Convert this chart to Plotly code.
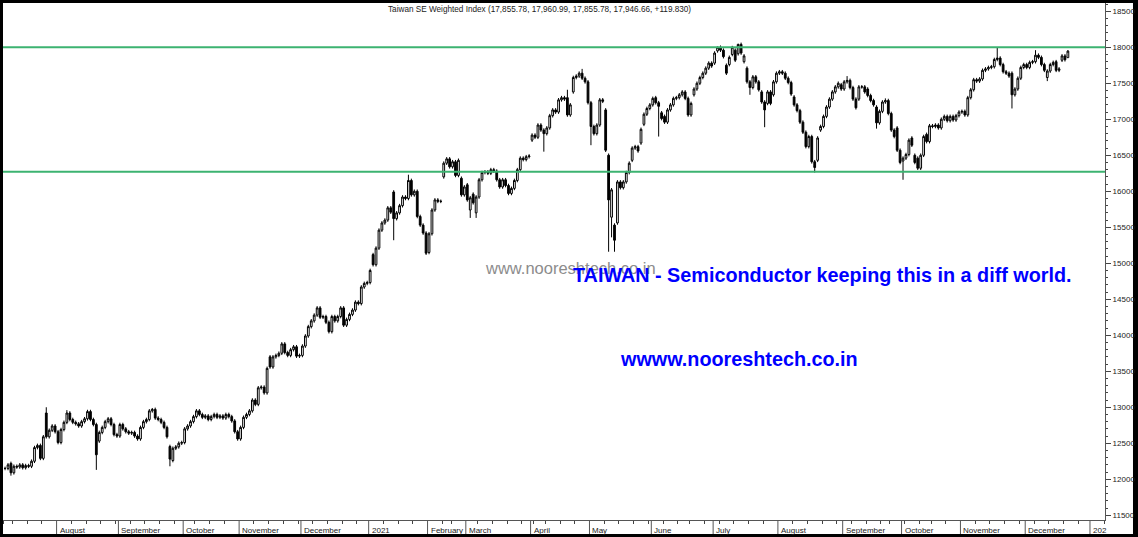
import pandas as pd
import plotly.graph_objects as go

# ---------------- data (daily closes) ----------------
close_jul20 = [12150, 12200, 12090, 12180, 12170, 12200, 12160, 12190, 12180, 12250,
               12440, 12470, 12290, 12590, 12590, 12680, 12740, 12660]
close_aug20 = [12510, 12690, 12790, 12920, 12830, 12790, 12770, 12740, 12800, 12840,
               12940, 12830, 12760, 12340, 12650, 12720, 12800, 12840, 12760, 12620, 12600]
close_sep20 = [12760, 12700, 12660, 12640, 12650, 12600, 12560, 12720, 12800, 12830,
               12950, 12970, 12850, 12830, 12790, 12720, 12590, 12280, 12430, 12450, 12500, 12510]
close_oct20 = [12700, 12740, 12800, 12870, 12950, 12900, 12860, 12880, 12830, 12870,
               12900, 12860, 12880, 12850, 12900, 12870, 12810, 12660, 12560]
close_nov20 = [12720, 12860, 12900, 12950, 13100, 13040, 13270, 13280, 13200, 13540,
               13560, 13700, 13720, 13750, 13880, 13760, 13720, 13800, 13840, 13710, 13720]
close_dec20 = [13850, 13990, 14120, 14200, 14280, 14380, 14250, 14260, 14180, 14050,
               14260, 14200, 14260, 14380, 14140, 14220, 14290, 14350, 14460, 14440,
               14670, 14720, 14732]
close_jan21 = [14900, 14980, 15210, 15460, 15560, 15600, 15770, 15710, 15620, 15700,
               15800, 15920, 15900, 16150, 15950, 16000, 15650, 15530, 15420, 15140]
close_feb21 = [15410, 15740, 15880, 15860, 15860, 16390, 16450, 16340, 16410, 16220,
               16430, 15950, 16060]
close_mar21 = [15880, 15910, 15840, 15920, 16160, 16260, 16270, 16250, 16300, 16280,
               16160, 16060, 16160, 16080, 15970, 16040, 16150, 16300, 16460, 16440,
               16480, 16490]
close_apr21 = [16780, 16750, 16920, 16850, 16800, 16880, 17050, 17130, 17100, 17270,
               17300, 17280, 17060, 17200, 17580, 17600, 17640, 17570, 17520, 17230]
close_may21 = [16900, 16800, 16920, 17270, 17250, 16570, 15880, 16020, 15320, 16130,
               16050, 16130, 16260, 16390, 16600, 16620, 16560, 16860, 17070, 17150, 17200]
close_jun21 = [17290, 17230, 17180, 17010, 16960, 17130, 17200, 17290, 17300, 17340,
               17380, 17290, 17060, 17220, 17420, 17500, 17580, 17640, 17710, 17780, 17740]
close_jul21 = [17920, 18000, 17960, 17870, 17640, 17860, 18000, 17820, 18040, 17920,
               17880, 17520, 17440, 17590, 17520, 17410, 17240, 17130, 17380, 17220,
               17520, 17640]
close_aug21 = [17660, 17640, 17570, 17510, 17350, 17200, 17120, 16960, 16820, 16620,
               16760, 16410, 16330, 16740, 16900, 17040, 17170, 17280, 17380, 17450,
               17500, 17420]
close_sep21 = [17520, 17540, 17440, 17280, 17160, 17450, 17450, 17380, 17330, 17260,
               17200, 16950, 17110, 17240, 17260, 17080, 16850, 16760, 16570, 16400]
close_oct21 = [16460, 16510, 16710, 16640, 16400, 16320, 16500, 16760, 16690, 16910,
               16900, 16920, 16880, 17000, 17040, 16980, 17040, 16990, 17050, 17100]
close_nov21 = [17110, 17060, 17300, 17410, 17550, 17530, 17560, 17680, 17700, 17720,
               17730, 17830, 17850, 17760, 17660, 17640, 17600, 17340, 17420, 17570,
               17720, 17760]
close_dec21 = [17720, 17790, 17800, 17890, 17860, 17760, 17680, 17670, 17760, 17790,
               17680, 17700, 17880, 17826.83, 17946.66]

# opens that differ from the previous close (bar number -> open)
open_gaps = {2: 12220, 14: 12920, 32: 12530, 56: 12455, 57: 12260, 90: 13700, 125: 15120,
             132: 15990, 144: 15150, 149: 16200, 155: 16180, 157: 16090, 158: 15740,
             159: 15960, 160: 15700, 179: 16710, 191: 17300, 193: 17380, 204: 17130,
             205: 16500, 206: 15640, 207: 15530, 208: 15560, 213: 16430, 216: 16670,
             217: 16930, 221: 17300, 223: 17090, 224: 17040, 234: 17340, 241: 17780,
             242: 17950, 245: 17750, 246: 17760, 247: 17900, 248: 17960, 249: 17910,
             251: 17800, 252: 17710, 257: 17380, 259: 17220, 261: 17340, 268: 17310,
             276: 16430, 277: 16850, 284: 17480, 290: 17280, 293: 17420, 296: 17170,
             303: 16880, 305: 16420, 308: 16740, 309: 16500, 310: 16460, 313: 16790,
             342: 17640, 354: 17580, 357: 17800, 359: 17820, 361: 17855.78}
# visible long shadows (bar number -> extreme)
high_wicks = {14: 13000, 21: 12960, 50: 12990, 137: 16230, 191: 17410, 196: 17700,
              242: 18010, 247: 18020, 249: 18050, 286: 17600, 299: 17290, 337: 18000,
              350: 17960, 361: 17960.99}
low_wicks = {2: 12050, 31: 12130, 56: 12180, 132: 15320, 158: 15630, 160: 15630,
             183: 16550, 199: 16640, 205: 15160, 206: 15360, 207: 15160, 222: 16760,
             253: 17340, 258: 16890, 275: 16260, 296: 16870, 305: 16160, 342: 17150,
             354: 17530, 361: 17855.78}
wick_pad = 25

support_resistance = [18000, 16270]

month_labels = ["August", "September", "October", "November", "December", "2021",
                "February", "March", "April", "May", "June", "July", "August",
                "September", "October", "November", "December", "202"]

holidays = ["2020-10-01", "2020-10-02", "2020-10-09", "2021-01-01",
            "2021-02-08", "2021-02-09", "2021-02-10", "2021-02-11", "2021-02-12",
            "2021-02-15", "2021-02-16", "2021-03-01", "2021-04-02", "2021-04-05",
            "2021-06-14", "2021-09-20", "2021-09-21", "2021-10-11", "2021-12-31"]

# ---------------- build OHLC ----------------
closes = (close_jul20 + close_aug20 + close_sep20 + close_oct20 + close_nov20 + close_dec20 +
          close_jan21 + close_feb21 + close_mar21 + close_apr21 + close_may21 + close_jun21 +
          close_jul21 + close_aug21 + close_sep21 + close_oct21 + close_nov21 + close_dec21)
n = len(closes)
opens, highs, lows = [], [], []
for i, c in enumerate(closes):
    o = open_gaps.get(i, closes[i - 1] if i > 0 else c)
    opens.append(o)
    highs.append(high_wicks.get(i, max(o, c) + wick_pad))
    lows.append(low_wicks.get(i, min(o, c) - wick_pad))

cal = pd.bdate_range("2020-07-08", "2022-01-21", freq="C", holidays=holidays)
dates = cal[:n]
assert str(dates[-1].date()) == "2021-12-21", (n, dates[-1])
xs = list(range(n))

# month starts (from August 2020) and weekly ticks
month_start = []
week_start = []
prev_m, prev_w = None, None
for i, d in enumerate(cal):
    m = (d.year, d.month)
    w = d.isocalendar()[:2]
    if m != prev_m and i > 0:
        month_start.append(i)
    if w != prev_w:
        week_start.append(i)
    prev_m, prev_w = m, w
month_start = month_start[:len(month_labels)]

fig = go.Figure()
fig.add_trace(go.Candlestick(
    x=xs, open=opens, high=highs, low=lows, close=closes,
    increasing=dict(line=dict(color="black", width=1), fillcolor="white"),
    decreasing=dict(line=dict(color="black", width=1), fillcolor="black"),
    whiskerwidth=0, showlegend=False, hoverinfo="skip"))

shapes = []
# white canvas inside the black frame
shapes.append(dict(type="rect", xref="paper", yref="paper", x0=0, x1=1.0254,
                   y0=-0.0271, y1=1, fillcolor="white", line=dict(width=0), layer="below"))
for lvl in support_resistance:
    shapes.append(dict(type="line", xref="paper", yref="y", x0=0, x1=1, y0=lvl, y1=lvl,
                       line=dict(color="#3cb371", width=2)))
for ms in month_start:
    shapes.append(dict(type="line", xref="x", yref="paper", x0=ms - 0.5, x1=ms - 0.5,
                       y0=0, y1=-0.0271, line=dict(color="#555555", width=1)))

annotations = []
for ms, lab in zip(month_start, month_labels):
    annotations.append(dict(x=ms - 0.5, y=-0.0195, xref="x", yref="paper", text=lab,
                            showarrow=False, xanchor="left", yanchor="middle", xshift=1,
                            font=dict(family="Liberation Sans", size=8, color="#222222")))

o, h, l, c = opens[-1], highs[-1], lows[-1], closes[-1]
chg = c - closes[-2]
title = f"Taiwan SE Weighted Index ({o:,.2f}, {h:,.2f}, {l:,.2f}, {c:,.2f}, +{chg:.3f})"
annotations.append(dict(x=0.4864, y=0.9865, xref="paper", yref="paper", text=title,
                        showarrow=False, xanchor="center", yanchor="middle",
                        font=dict(family="Liberation Sans", size=8.2, color="#222222")))
annotations.append(dict(x=0.4357, y=0.4874, xref="paper", yref="paper",
                        text="www.nooreshtech.co.in", showarrow=False,
                        xanchor="left", yanchor="middle",
                        font=dict(family="Liberation Sans", size=16.5, color="#8c8c8c")))
annotations.append(dict(x=0.5154, y=0.474, xref="paper", yref="paper",
                        text="<b>TAIWAN - Semiconductor keeping this in a diff world.</b>",
                        showarrow=False, xanchor="left", yanchor="middle",
                        font=dict(family="Liberation Sans", size=19.8, color="#0000ff")))
annotations.append(dict(x=0.558, y=0.3114, xref="paper", yref="paper",
                        text="<b>wwww.nooreshtech.co.in</b>", showarrow=False,
                        xanchor="left", yanchor="middle",
                        font=dict(family="Liberation Sans", size=19.8, color="#0000ff")))

fig.update_layout(
    width=1138, height=537,
    margin=dict(l=3, r=31, t=3, b=17),
    paper_bgcolor="black", plot_bgcolor="white",
    shapes=shapes, annotations=annotations, boxgap=0.15,
    xaxis=dict(range=[-0.7, 373.6], tickmode="array",
               tickvals=[w - 0.5 for w in week_start if w not in month_start],
               showticklabels=False, ticks="outside", ticklen=3, tickcolor="#444444",
               showline=True, linecolor="#555555", linewidth=1, showgrid=False,
               zeroline=False, rangeslider=dict(visible=False), fixedrange=True),
    yaxis=dict(side="right", range=[11434, 18615], tickmode="linear", tick0=0, dtick=500,
               ticks="outside", ticklen=5, tickcolor="#444444", tickformat="d",
               tickfont=dict(family="Liberation Sans", size=8, color="#222222"),
               showline=True, linecolor="#555555", linewidth=1, showgrid=False,
               zeroline=False, fixedrange=True,
               minor=dict(dtick=100, tick0=0, ticks="outside", ticklen=2,
                          tickcolor="#444444", showgrid=False)),
)

fig.write_html("out.html", config={"displayModeBar": False},
               post_script="document.body.style.margin='0';document.body.style.overflow='hidden';")
